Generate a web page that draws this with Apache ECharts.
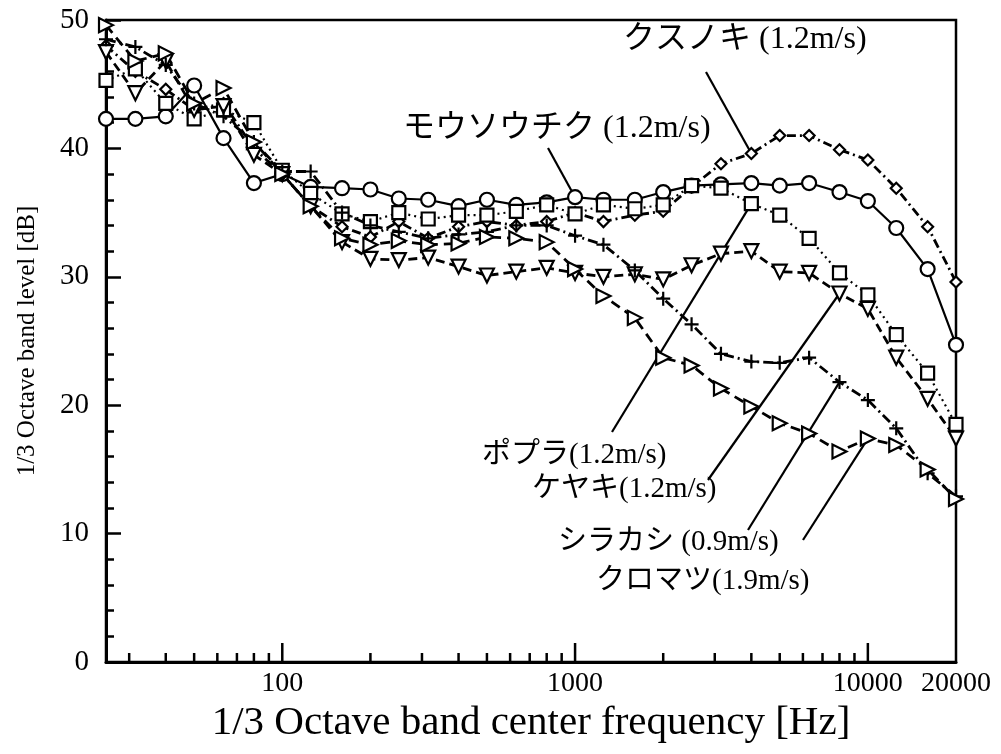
<!DOCTYPE html>
<html><head><meta charset="utf-8">
<script src="https://cdn.jsdelivr.net/npm/echarts@6/dist/echarts.min.js"></script>
<style>html,body{margin:0;padding:0;background:#fff}#c{width:1001px;height:754px}</style>
</head><body><div id="c"></div>
<script>
// 1/3 octave band centre frequencies [Hz]
const freqs = [25,31.5,40,50,63,80,100,125,160,200,250,315,400,500,630,800,1000,1250,1600,2000,2500,3150,4000,5000,6300,8000,10000,12500,16000,20000];
// Series values [dB]
const kusunoki  = [48.0,46.0,44.6,43.0,43.5,40.0,38.0,35.5,33.9,33.1,34.3,33.0,33.9,34.3,34.0,34.3,35.0,34.3,34.8,35.1,37.0,38.8,39.6,41.0,41.0,39.9,39.1,36.9,33.9,29.6];
const mousouchiku = [42.3,42.3,42.5,44.9,40.8,37.3,38.0,37.0,36.9,36.8,36.1,36.0,35.5,36.0,35.6,35.8,36.2,36.0,36.0,36.6,37.1,37.2,37.3,37.1,37.3,36.6,35.9,33.8,30.6,24.7];
const popura    = [45.3,46.2,43.5,42.3,43.0,42.0,38.3,36.5,34.9,34.3,35.0,34.5,34.8,34.8,35.1,35.6,34.9,35.6,35.3,35.6,37.1,36.9,35.7,34.8,33.0,30.3,28.6,25.5,22.5,18.5];
const keyaki    = [47.5,44.3,46.8,43.0,43.3,39.5,38.0,35.5,32.7,31.4,31.3,31.5,30.8,30.1,30.4,30.7,30.3,30.0,30.2,29.8,30.9,31.8,32.0,30.4,30.3,28.7,27.5,23.7,20.5,17.4];
const shirakashi = [48.5,47.9,46.5,43.5,42.5,40.5,38.2,38.2,35.0,34.0,33.5,33.0,33.3,33.5,34.0,34.0,33.2,32.5,30.5,28.3,26.3,24.0,23.4,23.3,23.7,21.8,20.4,18.2,14.7,12.9];
const kuromatsu = [49.6,46.8,47.4,43.5,44.7,40.5,38.0,35.5,33.0,32.5,32.8,32.5,32.6,33.1,33.0,32.7,30.6,28.5,26.8,23.7,23.1,21.3,19.9,18.6,17.8,16.4,17.4,16.9,15.0,12.7];
// x-axis tick positions (minor and major)
const xMinorTicks = [30,40,50,60,70,80,90,200,300,400,500,600,700,800,900,2000,3000,4000,5000,6000,7000,8000,9000];
const xMajorTicks = [100,1000,10000];
const xTickLabels = [100,1000,10000,20000];
// annotation labels: [text, freq, value of pointed mark]
const labels = [
  ['クスノキ (1.2m/s)', 4000, 39.6],
  ['モウソウチク (1.2m/s)', 1000, 36.2],
  ['ポプラ(1.2m/s)', 4000, 35.7],
  ['ケヤキ(1.2m/s)', 8000, 28.7],
  ['シラカシ (0.9m/s)', 8000, 21.8],
  ['クロマツ(1.9m/s)', 10000, 17.4]
];

const serif = '"Liberation Serif","Noto Sans CJK JP",serif';
const pair = arr => freqs.map((f,i)=>[f, arr[i]]);
const chart = echarts.init(document.getElementById('c'));

function mk(name, data, symbol, size, rot, lineType, lw) {
  return {
    name, type:'line', data: pair(data), symbol, symbolSize: size, symbolRotate: rot,
    showAllSymbol: true,
    lineStyle:{color:'#000', width: lw, type: lineType},
    itemStyle:{color:'#fff', borderColor:'#000', borderWidth:2.2},
    emphasis:{disabled:true}, animation:false, z: 3
  };
}
const plusPath = 'path://M0,5L10,5M5,0L5,10';

const tickSeries = (ticks, len, name) => ({
  name, type:'custom', data: ticks.map(t=>[t,0]), silent:true, animation:false, z:5,
  renderItem: (params, api) => {
    const p = api.coord([api.value(0), 0]);
    return {type:'line', shape:{x1:p[0], y1:p[1], x2:p[0], y2:p[1]-len}, style:{stroke:'#000', lineWidth:2.5}};
  }
});

chart.setOption({
  animation:false,
  grid:{left:106, right:45, top:20, bottom:92, show:true, borderColor:'#000', borderWidth:2.5, backgroundColor:'transparent'},
  xAxis:{
    type:'log', logBase:10, min:25, max:20000,
    axisLine:{lineStyle:{color:'#000', width:3}},
    axisTick:{show:false}, splitLine:{show:false},
    axisLabel:{color:'#000', fontFamily:serif, fontSize:28, margin:8, showMinLabel:false,
      formatter: v => { const r = Math.round(v); return xTickLabels.includes(r) ? String(r) : ''; }},
    name:'1/3 Octave band center frequency [Hz]', nameLocation:'middle', nameGap:37,
    nameTextStyle:{color:'#000', fontFamily:serif, fontSize:41}
  },
  yAxis:{
    type:'value', min:0, max:50, interval:10,
    axisLine:{show:true, lineStyle:{color:'#000', width:3}},
    axisTick:{show:true, inside:true, length:15, lineStyle:{color:'#000', width:2.5}},
    minorTick:{show:true, splitNumber:5, length:8, lineStyle:{color:'#000', width:2.5}},
    splitLine:{show:false}, minorSplitLine:{show:false},
    axisLabel:{color:'#000', fontFamily:serif, fontSize:29, margin:17},
    name:'1/3 Octave band level [dB]', nameLocation:'middle', nameGap:66,
    nameTextStyle:{color:'#000', fontFamily:serif, fontSize:25}
  },
  series:[
    mk('モウソウチク', mousouchiku, 'circle', 14, 0, 'solid', 2.2),
    mk('クスノキ', kusunoki, 'diamond', 11, 0, [9,4,2,4], 2.8),
    mk('ポプラ', popura, 'rect', 13, 0, [2,4], 2.2),
    mk('ケヤキ', keyaki, 'triangle', 14, 180, [9,5], 2.8),
    mk('シラカシ', shirakashi, plusPath, 14, 0, [10,4,2,4], 2.8),
    mk('クロマツ', kuromatsu, 'triangle', 14, -90, [10,6], 2.8),
    tickSeries(xMinorTicks, 9, 'minor'),
    tickSeries(xMajorTicks, 19, 'major')
  ]
});

// Annotation text positions / font sizes (layout only) and leader-line starts
const labelPos = [
  {x:623, y:42, fs:32, sx:706, sy:72},
  {x:403, y:131, fs:32, sx:548, sy:148},
  {x:482, y:458, fs:29, sx:612, sy:432},
  {x:532, y:492, fs:29, sx:708, sy:480},
  {x:558, y:545, fs:29, sx:748, sy:530},
  {x:596, y:584, fs:29, sx:803, sy:540}
];
const g = [];
labels.forEach((l,i)=>{
  const p = chart.convertToPixel({gridIndex:0}, [l[1], l[2]]);
  const lp = labelPos[i];
  g.push({type:'text', left:lp.x, top:lp.y-Math.round(lp.fs*0.57), style:{text:l[0], font:lp.fs+'px '+serif, fill:'#000'}, z:10});
  g.push({type:'line', shape:{x1:lp.sx, y1:lp.sy, x2:p[0], y2:p[1]}, style:{stroke:'#000', lineWidth:2.2}, z:2});
});
chart.setOption({graphic:g});
</script></body></html>
